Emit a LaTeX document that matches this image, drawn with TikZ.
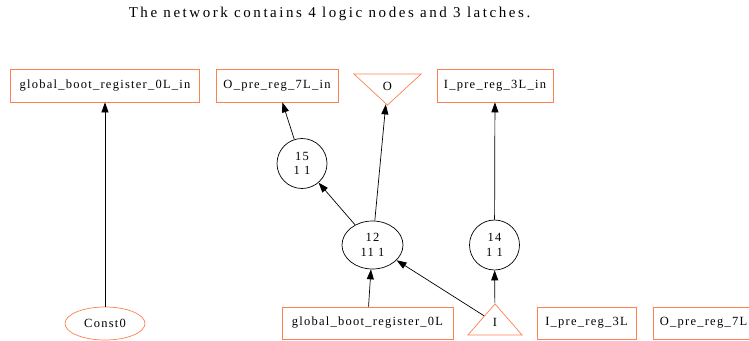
\documentclass[tikz,border=0pt]{standalone}
\usepackage{fontspec}
\setmainfont{Liberation Serif}
\newfontfamily\gvfont{Liberation Serif}[LetterSpace=10]
\newfontfamily\gvtitlefont{Liberation Serif}[LetterSpace=17]
\usepackage{tikz}
\usetikzlibrary{shapes.geometric, arrows.meta}
\definecolor{gvcoral}{HTML}{FF7F50}

\begin{document}
\begin{tikzpicture}[x=1pt, y=-1pt,
    font=\gvfont\fontsize{12.5pt}{14.3pt}\selectfont,
    pinbox/.style={draw=gvcoral, line width=0.7pt, rectangle, minimum height=33pt, inner sep=0pt},
    pinoval/.style={draw=gvcoral, line width=0.7pt, ellipse, inner sep=0pt},
    pintri/.style={draw=gvcoral, line width=0.7pt, isosceles triangle, isosceles triangle stretches, inner sep=0pt},
    logic/.style={draw, line width=0.7pt, ellipse, inner sep=0pt, align=center},
    wire/.style={-{Triangle[length=10pt, width=7pt]}, line width=0.7pt}]

      \useasboundingbox (0,0) rectangle (749,340);

      \node[font=\gvtitlefont\fontsize{15pt}{16pt}\selectfont] (title) at (329.5,14) {The network contains 4 logic nodes and 3 latches.};

      \node[pinbox, minimum width=188.5pt] (gbrin) at (105,85.5) {global\_boot\_register\_0L\_in};
      \node[pinbox, minimum width=122pt] (opin) at (277,85.5) {O\_pre\_reg\_7L\_in};
      \node[pintri, shape border rotate=270, minimum width=67pt, minimum height=31pt, anchor=apex] (O) at (387.5,106) {O};
      \node[pinbox, minimum width=116pt] (ipin) at (495,85.5) {I\_pre\_reg\_3L\_in};

      \node[logic, minimum width=50pt, minimum height=50pt] (n15) at (302,163.5) {15\\1 1};
      \node[logic, minimum width=61pt, minimum height=48pt] (n12) at (372.5,245) {12\\11 1};
      \node[logic, minimum width=50pt, minimum height=50pt] (n14) at (494.5,245) {14\\1 1};

      \node[pinoval, minimum width=80pt, minimum height=33pt] (const) at (105,323.5) {Const0};
      \node[pinbox, minimum width=171pt, minimum height=32pt] (gbr) at (367.5,323) {global\_boot\_register\_0L};
      \node[pintri, shape border rotate=90, minimum width=54pt, minimum height=31pt, anchor=apex] (I) at (495,303) {I};
      \node[pinbox, minimum width=99pt, minimum height=32pt] (ipre) at (586.5,323) {I\_pre\_reg\_3L};
      \node[pinbox, minimum width=101pt, minimum height=32pt] (opre) at (703.5,323) {O\_pre\_reg\_7L};

      \draw[wire] (const) -- (gbrin);
      \draw[wire] (n15) -- (opin);
      \draw[wire] (n12) -- (n15);
      \draw[wire] (n12) -- (O);
      \draw[wire] (n14) -- (ipin);
      \draw[wire] (gbr) -- (n12);
      \draw[wire] (I) -- (n12);
      \draw[wire] (I) -- (n14);

    \end{tikzpicture}
\end{document}
